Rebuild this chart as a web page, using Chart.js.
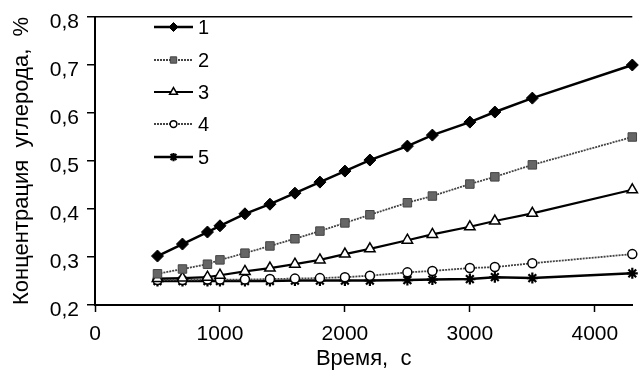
<!DOCTYPE html>
<html>
<head>
    <title>Концентрация углерода</title>
    <script src="https://cdn.jsdelivr.net/npm/chart.js"></script>
    <style>
        html, body { margin: 0; padding: 0; background: #fff; }
        #wrap { width: 640px; height: 372px; }
    </style>
</head>
<body>
    <div id="wrap">
        <canvas id="myChart" width="640" height="372"></canvas>
    </div>
    <script>
        // time points, s
        const time = [500, 700, 900, 1000, 1200, 1400, 1600, 1800, 2000, 2200, 2500, 2700, 3000, 3200, 3500, 4300];

        // carbon concentration, %
        const c1 = [0.302, 0.327, 0.352, 0.365, 0.390, 0.410, 0.433, 0.456, 0.479, 0.502, 0.531, 0.554, 0.581, 0.602, 0.631, 0.700];
        const c2 = [0.265, 0.275, 0.285, 0.294, 0.308, 0.323, 0.338, 0.354, 0.371, 0.388, 0.413, 0.427, 0.452, 0.467, 0.492, 0.550];
        const c3 = [0.255, 0.256, 0.258, 0.262, 0.270, 0.277, 0.285, 0.294, 0.306, 0.317, 0.335, 0.347, 0.363, 0.375, 0.391, 0.440];
        const c4 = [0.252, 0.252, 0.253, 0.253, 0.253, 0.254, 0.255, 0.256, 0.258, 0.261, 0.268, 0.271, 0.277, 0.279, 0.287, 0.306];
        const c5 = [0.250, 0.250, 0.250, 0.250, 0.250, 0.250, 0.251, 0.251, 0.251, 0.251, 0.252, 0.253, 0.254, 0.258, 0.256, 0.266];

        const seriesLabels = ['1', '2', '3', '4', '5'];
        const xTicks = [0, 1000, 2000, 3000, 4000];
        const yTicks = [0.2, 0.3, 0.4, 0.5, 0.6, 0.7, 0.8];

        const FONT = "'Liberation Sans', Arial, sans-serif";

        const toPoints = ys => time.map((t, i) => ({ x: t, y: ys[i] }));

        // legend drawn inside the plot, upper left
        const insideLegend = {
            id: 'insideLegend',
            afterDraw(chart) {
                const ctx = chart.ctx;
                const x0 = 154, x1 = 193, rows = [27, 60, 92, 124, 157];
                ctx.save();
                chart.data.datasets.forEach((ds, i) => {
                    const y = rows[i];
                    ctx.beginPath();
                    ctx.strokeStyle = ds.borderColor;
                    ctx.lineWidth = ds.borderWidth;
                    ctx.setLineDash(ds.borderDash || []);
                    ctx.moveTo(x0, y);
                    ctx.lineTo(x1, y);
                    ctx.stroke();
                    ctx.setLineDash([]);
                    ctx.fillStyle = ds.pointBackgroundColor;
                    ctx.strokeStyle = ds.pointBorderColor;
                    ctx.lineWidth = ds.pointBorderWidth;
                    Chart.helpers.drawPoint(ctx, {
                        pointStyle: ds.pointStyle,
                        radius: ds.pointRadius * 0.75,
                        rotation: 0,
                        borderWidth: ds.pointBorderWidth
                    }, (x0 + x1) / 2, y);
                    ctx.fillStyle = '#000';
                    ctx.font = '20px ' + FONT;
                    ctx.textBaseline = 'middle';
                    ctx.fillText(ds.label, 198, y + 1);
                });
                ctx.restore();
            }
        };

        const ctx = document.getElementById('myChart').getContext('2d');
        const myChart = new Chart(ctx, {
            type: 'line',
            data: {
                datasets: [
                    {
                        label: seriesLabels[0],
                        data: toPoints(c1),
                        borderColor: '#000',
                        borderWidth: 2.5,
                        pointStyle: 'rectRot',
                        pointRadius: 6,
                        pointBackgroundColor: '#000',
                        pointBorderColor: '#000',
                        pointBorderWidth: 1,
                    },
                    {
                        label: seriesLabels[1],
                        data: toPoints(c2),
                        borderColor: '#444',
                        borderWidth: 1.8,
                        borderDash: [2, 1],
                        pointStyle: 'rect',
                        pointRadius: 6,
                        pointBackgroundColor: '#666',
                        pointBorderColor: '#444',
                        pointBorderWidth: 1,
                    },
                    {
                        label: seriesLabels[2],
                        data: toPoints(c3),
                        borderColor: '#000',
                        borderWidth: 2.2,
                        pointStyle: 'triangle',
                        pointRadius: 6,
                        pointBackgroundColor: '#fff',
                        pointBorderColor: '#000',
                        pointBorderWidth: 1.5,
                    },
                    {
                        label: seriesLabels[3],
                        data: toPoints(c4),
                        borderColor: '#444',
                        borderWidth: 1.8,
                        borderDash: [2, 1],
                        pointStyle: 'circle',
                        pointRadius: 4.5,
                        pointBackgroundColor: '#fff',
                        pointBorderColor: '#000',
                        pointBorderWidth: 1.5,
                    },
                    {
                        label: seriesLabels[4],
                        data: toPoints(c5),
                        borderColor: '#000',
                        borderWidth: 2.5,
                        pointStyle: 'star',
                        pointRadius: 5.5,
                        pointBackgroundColor: '#000',
                        pointBorderColor: '#000',
                        pointBorderWidth: 2.2,
                    },
                ],
            },
            options: {
                responsive: false,
                animation: false,
                clip: false,
                layout: { padding: { top: 17, right: 3, left: 0, bottom: 0 } },
                plugins: {
                    legend: { display: false },
                    tooltip: { enabled: false },
                },
                scales: {
                    x: {
                        type: 'linear',
                        min: 0,
                        max: 4300,
                        afterBuildTicks: scale => { scale.ticks = xTicks.map(v => ({ value: v })); },
                        afterFit: scale => {
                            scale.height = 67;
                            scale.paddingLeft = 0;
                            scale.paddingRight = 0;
                        },
                        grid: { drawOnChartArea: false, tickLength: 7, tickColor: '#000', tickWidth: 1.5 },
                        border: { color: '#000', width: 2 },
                        ticks: {
                            color: '#000',
                            font: { family: FONT, size: 21 },
                            padding: 10,
                            maxRotation: 0,
                            callback: v => String(v),
                        },
                        title: {
                            display: true,
                            text: 'Время,  с',
                            color: '#000',
                            font: { family: FONT, size: 22 },
                            padding: { top: 0, bottom: 0 },
                        },
                    },
                    y: {
                        min: 0.2,
                        max: 0.8,
                        afterBuildTicks: scale => { scale.ticks = yTicks.map(v => ({ value: v })); },
                        afterFit: scale => {
                            scale.width = 95;
                            scale.paddingTop = 0;
                            scale.paddingBottom = 0;
                        },
                        grid: {
                            drawOnChartArea: true,
                            color: c => (c.tick && Math.abs(c.tick.value - 0.8) < 1e-6) ? '#000' : 'rgba(0,0,0,0)',
                            lineWidth: 1.5,
                            tickLength: 8,
                            tickColor: '#000',
                            tickWidth: 1.5,
                        },
                        border: { color: '#000', width: 2 },
                        ticks: {
                            color: '#000',
                            font: { family: FONT, size: 21 },
                            padding: 8,
                            labelOffset: 5,
                            callback: v => v.toFixed(1).replace('.', ','),
                        },
                        title: {
                            display: true,
                            text: 'Концентрация  углерода,  %',
                            color: '#000',
                            font: { family: FONT, size: 22 },
                            padding: { top: 9, bottom: 0 },
                        },
                    },
                },
            },
            plugins: [insideLegend],
        });
    </script>
</body>
</html>
